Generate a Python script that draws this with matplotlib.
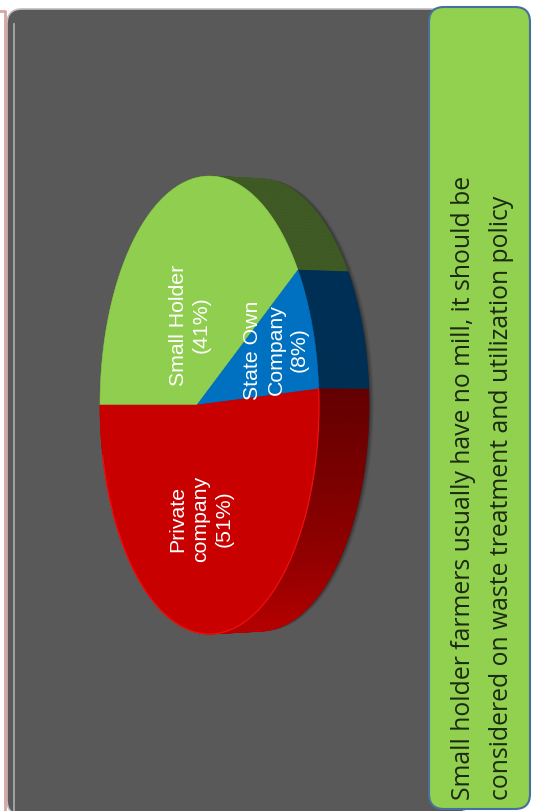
import numpy as np
import matplotlib
matplotlib.use('Agg')
import matplotlib.pyplot as plt
from matplotlib.collections import PolyCollection
from matplotlib.colors import to_rgb
from matplotlib.patches import FancyBboxPatch, Polygon

# share of mills by owner, clockwise from the left edge of the pie
owners = ['Small Holder', 'State Own', 'Private']
shares = [41, 8, 51]
top_colors = ['#8fce4f', '#0070c0', '#c80000']
side_start = ['#3f5a24', '#002f56', '#640000']
side_end = ['#3f5a24', '#002f56', '#b40000']
labels = [('Small Holder\n(41%)', 190, 325),
          ('State Own\nCompany\n(8%)', 276, 350),
          ('Private\ncompany\n(51%)', 201, 519)]
note = ['Small holder farmers usually have no mill, it should be',
        'considered on waste treatment and utilization policy']

W, H = 533, 811
fig = plt.figure(figsize=(W / 100, H / 100), dpi=100, facecolor='white')
ax = fig.add_axes([0, 0, 1, 1])
ax.set_xlim(0, W)
ax.set_ylim(H, 0)
ax.axis('off')


def project(theta, depth=0):
    # tilted disc seen in perspective, depth pushes it back along x
    u, v = np.cos(theta), np.sin(theta)
    w = 1 - 0.114 * u
    x = (197 + 85.6 * u) / w + depth
    y = 405 - 227.5 * v / w * (1 - 0.00024 * depth)
    return x, y


# dark panel behind the pie
ax.plot([0, 4.5, 4.5], [11, 11, H], color='#d8a4a4', lw=2)
panel = FancyBboxPatch((7, 9), 460, 806, boxstyle='round,pad=0,rounding_size=15',
                       fc='#595959', ec='#bdbdbd', lw=1.2)
ax.add_patch(panel)
ax.plot([14, 14], [24, H], color='#a8a8a8', lw=1.3)

edges = np.radians(180 - np.cumsum([0] + shares) * 3.6)

# soft shadow along the rim
all_t = np.linspace(0, 2 * np.pi, 400)
for off, alpha in zip([5, 4, 3, 2, 1], [0.05, 0.07, 0.09, 0.11, 0.13]):
    bx, by = project(all_t, 50 + off)
    ax.add_patch(Polygon(np.c_[bx, by], fc='black', ec='none', alpha=alpha))

# rim of each slice, built from thin strips so the red can shade
for i in range(len(shares)):
    t = np.linspace(edges[i], edges[i + 1], 120)
    fx, fy = project(t)
    bx, by = project(t, 50)
    quads = [[(fx[k], fy[k]), (fx[k + 1], fy[k + 1]), (bx[k + 1], by[k + 1]), (bx[k], by[k])]
             for k in range(len(t) - 1)]
    c0, c1 = np.array(to_rgb(side_start[i])), np.array(to_rgb(side_end[i]))
    frac = np.clip(np.linspace(0, 1, len(quads)) / 0.38, 0, 1)
    cols = [c0 + (c1 - c0) * f for f in frac]
    ax.add_collection(PolyCollection(quads, facecolors=cols, edgecolors=cols, linewidths=0.5))

# top face
for i in range(len(shares)):
    t = np.linspace(edges[i], edges[i + 1], 200)
    fx, fy = project(t)
    pts = np.vstack([[(197, 405)], np.c_[fx, fy]])
    ax.add_patch(Polygon(pts, fc=top_colors[i], ec=top_colors[i], lw=0.4))

# bright lip on the red slice
t = np.linspace(edges[2], edges[3] + 0.25, 120)
fx, fy = project(t)
ax.plot(fx, fy, color='#f01010', lw=0.9)

for text, x, y in labels:
    ax.text(x, y, text, rotation=90, color='white', ha='center', va='center',
            multialignment='center', family='Liberation Sans', fontsize=15.3, linespacing=1.27)

# note box on the right
box = FancyBboxPatch((429, 7), 101, 802, boxstyle='round,pad=0,rounding_size=15',
                     fc='#92d050', ec='#47709a', lw=1.5)
ax.add_patch(box)
ax.text(464, 800, note[0], rotation=90, color='#1c2a10', ha='center', va='bottom',
        family='Open Sans', fontsize=17.8)
ax.text(502, 800, note[1], rotation=90, color='#1c2a10', ha='center', va='bottom',
        family='Open Sans', fontsize=17.8)

fig.savefig('out.png', dpi=100)
